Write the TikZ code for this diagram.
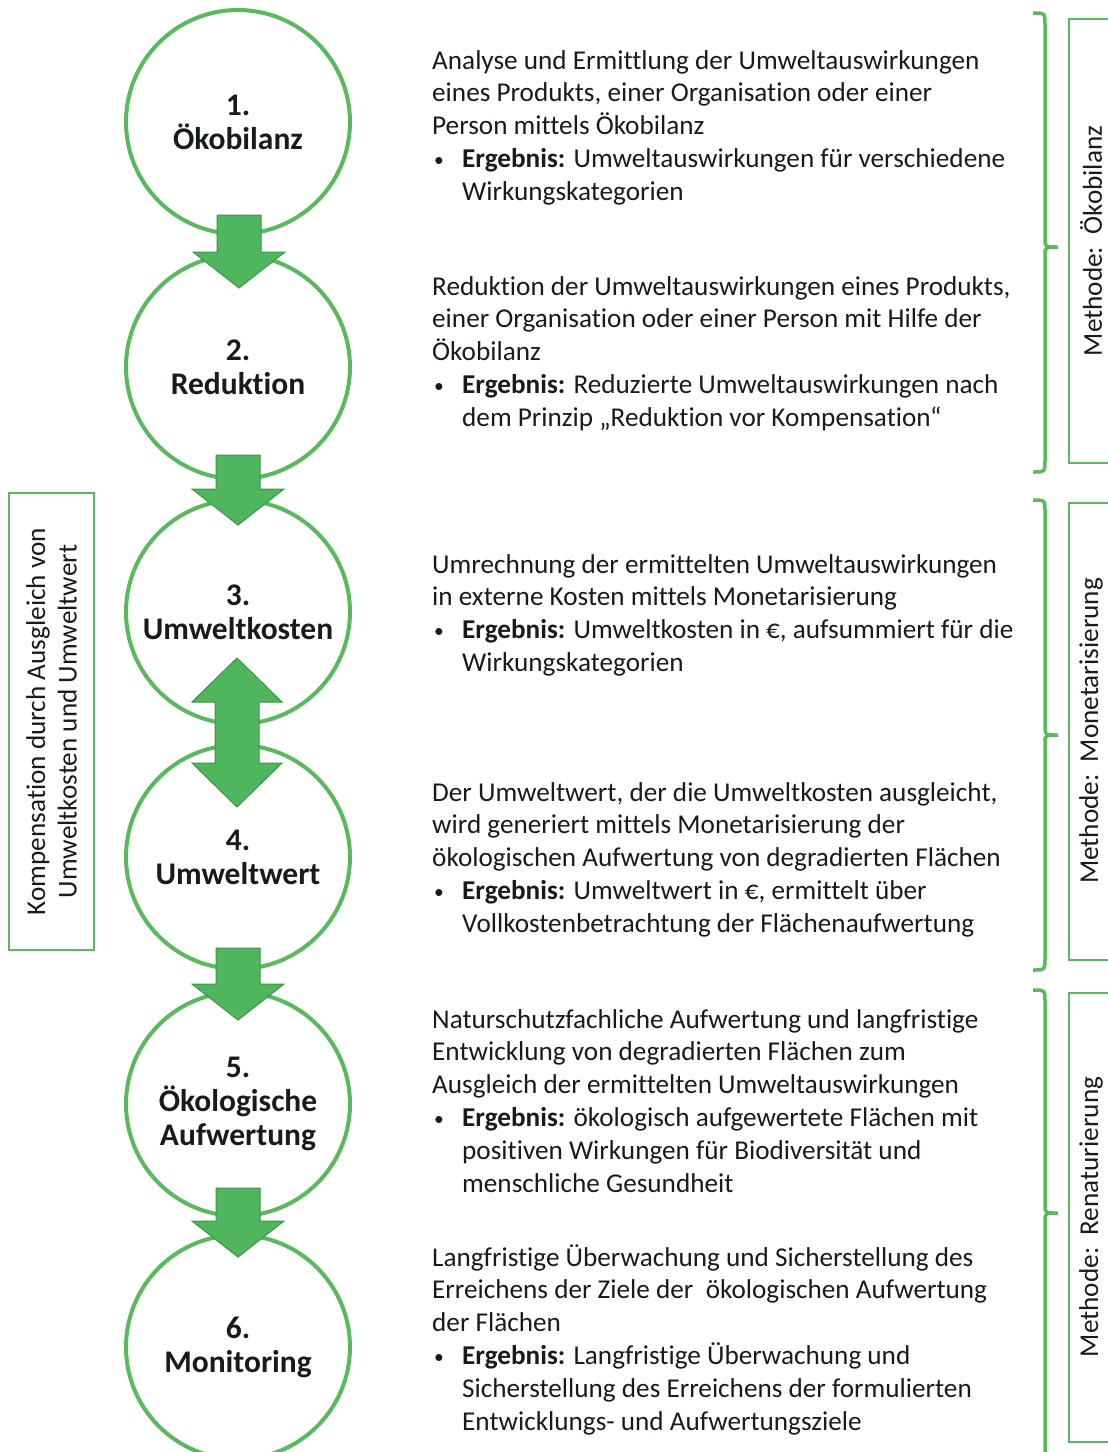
\documentclass[tikz,border=0pt]{standalone}
\usepackage{fontspec}
\usepackage{graphicx}
\setmainfont{Carlito}[Ligatures=NoCommon]
\usetikzlibrary{calc}

\definecolor{leaf}{RGB}{88,186,92}
\definecolor{leafdark}{RGB}{60,148,72}
\definecolor{leaffill}{RGB}{80,182,94}
\definecolor{ink}{RGB}{22,28,22}

% bullet and hanging indent for the result lines
\newcommand{\bul}{\makebox[30pt][l]{\hspace*{2pt}\raisebox{0.12ex}{\scalebox{0.72}{\textbullet}}}}
\newcommand{\ind}{\hspace*{30pt}}

% block arrow: top centre, tip
\newcommand{\flowdown}[2]{%
  \draw[flow] ($(#1)+(-22,0)$) -- ($(#1)+(22,0)$) -- ($(#2)+(22,-36)$) -- ($(#2)+(46,-36)$)
    -- (#2) -- ($(#2)+(-46,-36)$) -- ($(#2)+(-22,-36)$) -- cycle;}
% double block arrow: upper tip, lower tip
\newcommand{\flowboth}[2]{%
  \draw[flow] (#1) -- ($(#1)+(45,44)$) -- ($(#1)+(22,44)$) -- ($(#2)+(22,-44)$) -- ($(#2)+(45,-44)$)
    -- (#2) -- ($(#2)+(-45,-44)$) -- ($(#2)+(-22,-44)$) -- ($(#1)+(-22,44)$) -- ($(#1)+(-45,44)$) -- cycle;}
% curly bracket on the right: top, middle, bottom
\newcommand{\methodbrace}[3]{%
  \draw[bracket] (1033,#1) .. controls (1045,#1) .. (1045,#1+12) -- (1045,#2-8)
    .. controls (1045,#2) .. (1058,#2) .. controls (1045,#2) .. (1045,#2+8)
    -- (1045,#3-12) .. controls (1045,#3) .. (1033,#3);}

\begin{document}
\begin{tikzpicture}
  [x=1pt, y=-1pt,
   stage/.style={circle, draw=leaf, line width=4pt, minimum size=224pt, inner sep=0pt,
     align=center, text=ink, font=\fontsize{31.5}{34}\selectfont\bfseries},
   info/.style={anchor=north west, inner sep=0pt, align=left, text=ink,
     font=\fontsize{27.2}{32.8}\selectfont},
   method/.style={draw=leaf, line width=2pt, rotate=90, inner sep=0pt, align=center,
     text=ink, font=\fontsize{27.2}{31.5}\selectfont},
   flow/.style={fill=leaffill, draw=leafdark, line width=1pt, line join=miter},
   bracket/.style={draw=leaf, line width=3.5pt}]

  \useasboundingbox (0,0) rectangle (1108,1452);

  % stages
  \node[stage] (s1) at (238,122) {1.\\Ökobilanz};
  \node[stage] (s2) at (238,367) {2.\\Reduktion};
  \node[stage] (s3) at (238,612) {3.\\Umweltkosten};
  \node[stage] (s4) at (238,857) {4.\\Umweltwert};
  \node[stage] (s5) at (238,1104) {5.\\Ökologische\\Aufwertung};
  \node[stage] (s6) at (238,1347) {6.\\Monitoring};

  % arrows between the stages
  \flowdown{$(s1.center)+(1,93)$}{$(s2.center)+(1,-79)$}
  \flowdown{$(s2.center)+(0,88)$}{$(s3.center)+(0,-87)$}
  \flowboth{$(s3.center)+(-1,46)$}{$(s4.center)+(-1,-50)$}
  \flowdown{$(s4.center)+(0,91)$}{$(s5.center)+(0,-84)$}
  \flowdown{$(s5.center)+(0,84)$}{$(s6.center)+(0,-90)$}

  % descriptions
  \node[info] (t1) at (432,46) {\strut Analyse und Ermittlung der Umweltauswirkungen\\
    eines Produkts, einer Organisation oder einer\\
    Person mittels Ökobilanz\\
    \bul\textbf{Ergebnis:} Umweltauswirkungen für verschiedene\\
    \ind Wirkungskategorien};
  \node[info] (t2) at (432,272) {\strut Reduktion der Umweltauswirkungen eines Produkts,\\
    einer Organisation oder einer Person mit Hilfe der\\
    Ökobilanz\\
    \bul\textbf{Ergebnis:} Reduzierte Umweltauswirkungen nach\\
    \ind dem Prinzip „Reduktion vor Kompensation“};
  \node[info] (t3) at (432,550) {\strut Umrechnung der ermittelten Umweltauswirkungen\\
    in externe Kosten mittels Monetarisierung\\
    \bul\textbf{Ergebnis:} Umweltkosten in €, aufsummiert für die\\
    \ind Wirkungskategorien};
  \node[info] (t4) at (432,778) {\strut Der Umweltwert, der die Umweltkosten ausgleicht,\\
    wird generiert mittels Monetarisierung der\\
    ökologischen Aufwertung von degradierten Flächen\\
    \bul\textbf{Ergebnis:} Umweltwert in €, ermittelt über\\
    \ind Vollkostenbetrachtung der Flächenaufwertung};
  \node[info] (t5) at (432,1005) {\strut Naturschutzfachliche Aufwertung und langfristige\\
    Entwicklung von degradierten Flächen zum\\
    Ausgleich der ermittelten Umweltauswirkungen\\
    \bul\textbf{Ergebnis:} ökologisch aufgewertete Flächen mit\\
    \ind positiven Wirkungen für Biodiversität und\\
    \ind menschliche Gesundheit};
  \node[info] (t6) at (432,1243) {\strut Langfristige Überwachung und Sicherstellung des\\
    Erreichens der Ziele der\ \ ökologischen Aufwertung\\
    der Flächen\\
    \bul\textbf{Ergebnis:} Langfristige Überwachung und\\
    \ind Sicherstellung des Erreichens der formulierten\\
    \ind Entwicklungs- und Aufwertungsziele};

  % brackets and method boxes
  \methodbrace{13}{247}{472}
  \methodbrace{500}{735}{970}
  \methodbrace{990}{1213}{1475}
  \node[method, minimum width=444pt, minimum height=44pt] (m1) at (1091,241) {Methode:\ \ Ökobilanz};
  \node[method, minimum width=457pt, minimum height=44pt] (m2) at (1091,731) {Methode:\ \ Monetarisierung};
  \node[method, minimum width=449pt, minimum height=44pt] (m3) at (1091,1217) {Methode:\ \ Renaturierung};

  % compensation box
  \node[method, minimum width=457pt, minimum height=85pt] (comp) at (51.5,721.5)
    {Kompensation durch Ausgleich von\\Umweltkosten und Umweltwert};

\end{tikzpicture}
\end{document}
